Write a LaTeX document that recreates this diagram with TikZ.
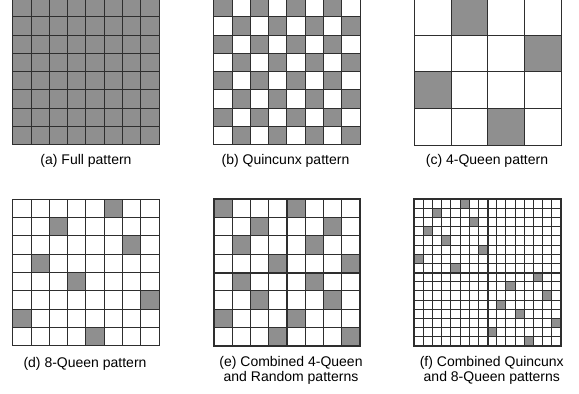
\documentclass[tikz,border=0pt]{standalone}
\usepackage{fontspec}
\setmainfont{Liberation Sans}
\definecolor{cellgray}{HTML}{8F8F8F}
\definecolor{gridgray}{HTML}{2E2E2E}
\tikzset{
  gridline/.style={
    draw = gridgray,
    line width = 0.9pt,
    line cap = rect
  },
  blockline/.style={
    draw = gridgray,
    line width = 2pt,
    line cap = rect
  },
  caption/.style={
    font = \fontsize{14}{15.6}\selectfont,
    align = center,
    inner sep = 0pt
  },
}
\newcommand{\patgrid}[2]{%
  \foreach \i in {0,...,#1}{
    \draw[gridline] (\i*#2,0) -- (\i*#2,#1*#2);
    \draw[gridline] (0,\i*#2) -- (#1*#2,\i*#2);
  }}
\newcommand{\patcell}[3]{\fill[cellgray] ({(#2)*#3},{(#1)*#3}) rectangle ++(#3,#3);}
\newcommand{\patblocks}[1]{%
  \draw[blockline] (0,0) rectangle (#1,#1);
  \draw[blockline] (#1/2,0) -- (#1/2,#1);
  \draw[blockline] (0,#1/2) -- (#1,#1/2);}

\begin{document}
\begin{tikzpicture}[x=1pt,y=-1pt]
  \useasboundingbox (0,0) rectangle (579,394);
  % (a) full
  \begin{scope}[shift={(12.7,-1.6)}]
    \fill[cellgray] (0,0) rectangle (146.4,146.4);
    \patgrid{8}{18.3}
  \end{scope}
  % (b) quincunx
  \begin{scope}[shift={(213.7,-1.6)}]
    \foreach \rw in {0,...,7}{
      \foreach \cl in {0,...,7}{
        \pgfmathtruncatemacro\isodd{mod(\rw+\cl,2)}
        \ifnum\isodd=0 \patcell{\rw}{\cl}{18.3}\fi
      }
    }
    \patgrid{8}{18.3}
  \end{scope}
  % (c) 4-queen
  \begin{scope}[shift={(414.3,-1.7)}]
    \foreach \rw/\cl in {0/1,1/3,2/0,3/2}{
      \patcell{\rw}{\cl}{36.7}
    }
    \patgrid{4}{36.7}
  \end{scope}
  % (d) 8-queen
  \begin{scope}[shift={(12.7,199.3)}]
    \foreach \rw/\cl in {0/5,1/2,2/6,3/1,4/3,5/7,6/0,7/4}{
      \patcell{\rw}{\cl}{18.3}
    }
    \patgrid{8}{18.3}
  \end{scope}
  % (e) 4-queen + random
  \begin{scope}[shift={(213.7,199.3)}]
    \foreach \rw/\cl in {0/0,1/2,2/1,3/3,4/1,5/2,6/0,7/3}{
      \patcell{\rw}{\cl}{18.3}
      \patcell{\rw}{\cl+4}{18.3}
    }
    \patgrid{8}{18.3}
    \patblocks{146.4}
  \end{scope}
  % (f) quincunx + 8-queen
  \begin{scope}[shift={(414.3,199.3)}]
    \foreach \rw/\cl in {0/5,1/2,2/6,3/1,4/3,5/7,6/0,7/4}{
      \patcell{\rw}{\cl}{9.15}
      \patcell{\rw+8}{\cl+8}{9.15}
    }
    \patgrid{16}{9.15}
    \patblocks{146.4}
  \end{scope}
  \node[caption] (capa) at (86,160.7) {(a) Full pattern};
  \node[caption] (capb) at (285.5,160.7) {(b) Quincunx pattern};
  \node[caption] (capc) at (487,160.7) {(c) 4-Queen pattern};
  \node[caption] (capd) at (85,364) {(d) 8-Queen pattern};
  \node[caption] (cape) at (291,370.5) {(e) Combined 4-Queen\\and Random patterns};
  \node[caption] (capf) at (491.8,370.5) {(f) Combined Quincunx\\and 8-Queen patterns};
\end{tikzpicture}
\end{document}
